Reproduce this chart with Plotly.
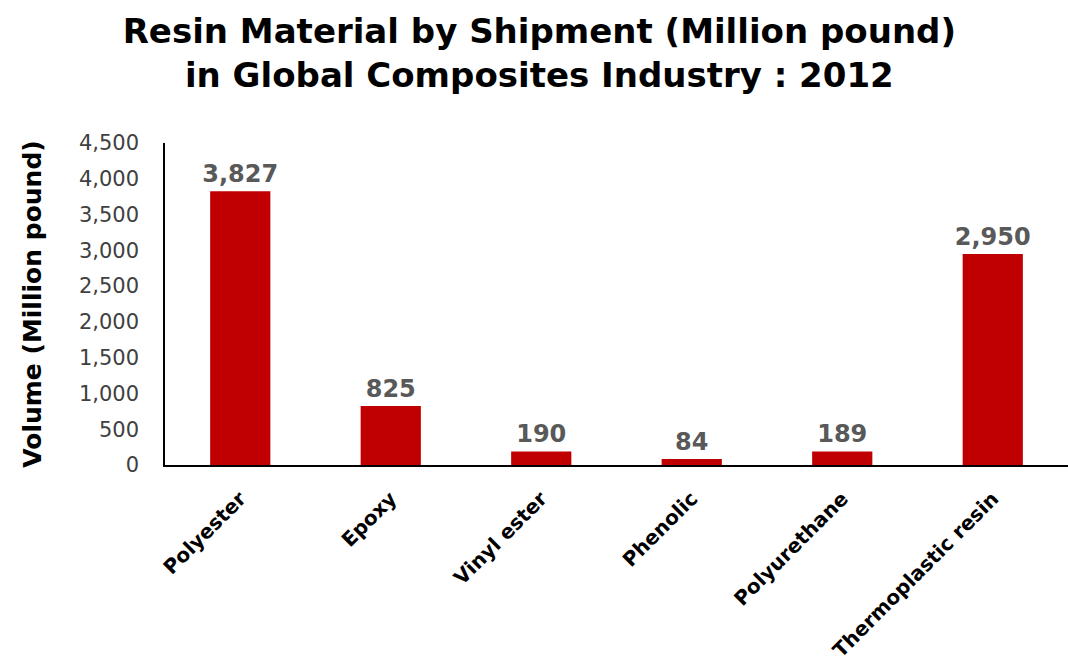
import plotly.graph_objects as go

categories = ["Polyester", "Epoxy", "Vinyl ester", "Phenolic", "Polyurethane", "Thermoplastic resin"]
values = [3827, 825, 190, 84, 189, 2950]
y_ticks = [0, 500, 1000, 1500, 2000, 2500, 3000, 3500, 4000, 4500]

FONT = "DejaVu Sans"

fig = go.Figure(go.Bar(
    x=categories, y=values,
    marker=dict(color="#C00000", line=dict(width=0)),
    text=[f"{v:,}" for v in values],
    textposition="outside",
    constraintext="none",
    textfont=dict(family=FONT, size=24, color="#595959", weight="bold"),
    cliponaxis=False,
))

fig.update_layout(
    width=1068, height=667,
    margin=dict(l=165, r=0, t=143, b=202, autoexpand=False),
    paper_bgcolor="white", plot_bgcolor="white",
    bargap=0.6,
    showlegend=False,
    title=dict(
        text="Resin Material by Shipment (Million pound)<br>in Global Composites Industry : 2012",
        x=0.505, xanchor="center", yref="container", y=0.936, yanchor="top",
        font=dict(family=FONT, size=34, color="black", weight="bold"),
    ),
    xaxis=dict(
        automargin=False,
        showline=True, linecolor="black", linewidth=2,
        ticks="", tickangle=-45, ticklabelstandoff=12,
        tickfont=dict(family=FONT, size=20, color="black", weight="bold"),
        showgrid=False,
    ),
    yaxis=dict(
        automargin=False,
        range=[0, 4500], tickvals=y_ticks, tickformat=",",
        showline=True, linecolor="black", linewidth=1.5,
        ticks="", showgrid=False, zeroline=False,
        tickfont=dict(family=FONT, size=21, color="#404040"),
        ticklabelstandoff=20,
        title=dict(text="Volume (Million pound)", standoff=30,
                   font=dict(family=FONT, size=25, color="black", weight="bold")),
    ),
)

fig.write_html("out.html")
